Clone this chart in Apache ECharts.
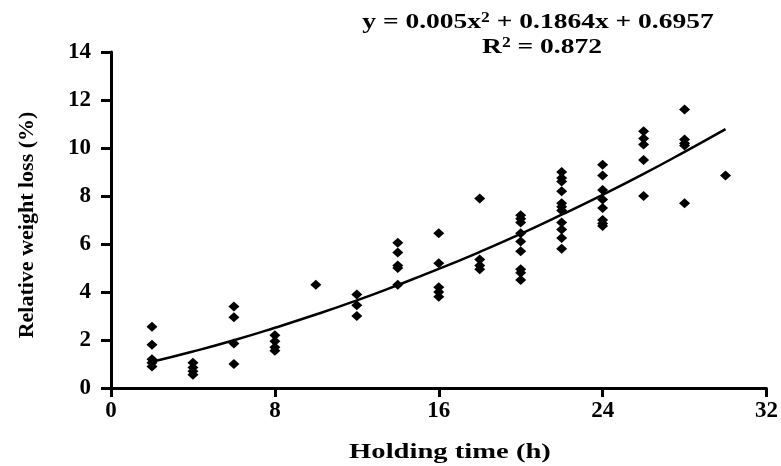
<!DOCTYPE html>
<html>
<head>
<meta charset="utf-8">
<script src="https://cdn.jsdelivr.net/npm/echarts@6/dist/echarts.min.js"></script>
<style>
  html, body { margin: 0; padding: 0; background: #fff; }
  #chart { width: 781px; height: 466px; }
</style>
</head>
<body>
<div id="chart"></div>
<script>
// holding time (h) of each measured sample
var hours = [
  2, 2, 2, 2, 2,
  4, 4, 4, 4,
  6, 6, 6, 6,
  8, 8, 8, 8,
  10,
  12, 12, 12,
  14, 14, 14, 14, 14,
  16, 16, 16, 16, 16,
  18, 18, 18, 18,
  20, 20, 20, 20, 20, 20, 20, 20, 20,
  22, 22, 22, 22, 22, 22, 22, 22, 22, 22, 22,
  24, 24, 24, 24, 24, 24, 24, 24,
  26, 26, 26, 26, 26,
  28, 28, 28, 28, 28,
  30
]
// relative weight loss (%) of each sample
var loss = [
  2.55, 1.8, 1.2, 1.05, 0.9,
  1.05, 0.85, 0.7, 0.55,
  3.4, 2.95, 1.85, 1.0,
  2.2, 1.95, 1.7, 1.55,
  4.3,
  3.9, 3.45, 3.0,
  6.05, 5.65, 5.1, 5.0, 4.3,
  6.45, 5.2, 4.2, 4.0, 3.8,
  7.9, 5.35, 5.1, 4.95,
  7.2, 7.05, 6.9, 6.45, 6.1, 5.7, 4.95, 4.8, 4.5,
  9.0, 8.75, 8.6, 8.2, 7.7, 7.55, 7.4, 6.9, 6.6, 6.25, 5.8,
  9.3, 8.85, 8.25, 7.85, 7.5, 7.0, 6.85, 6.75,
  10.7, 10.4, 10.15, 9.5, 8.0,
  11.6, 10.35, 10.2, 10.1, 7.7,
  8.85
]
// fitted curve
var fitX = [2, 4, 6, 8, 10, 12, 14, 16, 18, 20, 22, 24, 26, 28, 30]
var fitY = [1.09, 1.52, 1.99, 2.51, 3.06, 3.65, 4.29, 4.96, 5.67, 6.42, 7.22, 8.05, 8.92, 9.84, 10.79]

var xName = 'Holding time (h)'
var yName = 'Relative weight loss (%)'

var chart = echarts.init(document.getElementById('chart'))

var points = hours.map(function (h, i) { return [h, loss[i]] })
var curve = fitX.map(function (x, i) { return [x, fitY[i]] })

var serif = 'Liberation Serif'
var tickText = { color: '#000', fontFamily: serif, fontWeight: 'bold', fontSize: 23 }
var eqStyle = { fontFamily: serif, fontWeight: 'bold', fontSize: 22, color: '#000' }
var supStyle = { fontFamily: serif, fontWeight: 'bold', fontSize: 14, verticalAlign: 'top', color: '#000' }

chart.setOption({
  animation: false,
  backgroundColor: '#fff',
  grid: { left: 111, right: 13, top: 52, bottom: 78 },
  graphic: [
    {
      type: 'text', x: 538, y: 22, scaleX: 1.25,
      style: {
        text: '{a|y = 0.005x}{s|2}{a| + 0.1864x + 0.6957}',
        align: 'center', verticalAlign: 'middle',
        rich: { a: eqStyle, s: supStyle }
      }
    },
    {
      type: 'text', x: 542, y: 47, scaleX: 1.25,
      style: {
        text: '{a|R}{s|2}{a| = 0.872}',
        align: 'center', verticalAlign: 'middle',
        rich: { a: eqStyle, s: supStyle }
      }
    },
    {
      type: 'text', x: 450, y: 452, scaleX: 1.3,
      style: {
        text: xName, align: 'center', verticalAlign: 'middle',
        fill: '#000', font: 'bold 22px "Liberation Serif"'
      }
    },
    {
      type: 'text', x: 27, y: 225, rotation: Math.PI / 2,
      style: {
        text: yName, align: 'center', verticalAlign: 'middle',
        fill: '#000', font: 'bold 22px "Liberation Serif"'
      }
    }
  ],
  xAxis: {
    type: 'value', min: 0, max: 32, interval: 8,
    axisLine: { lineStyle: { color: '#000', width: 3 } },
    axisTick: { length: 9, lineStyle: { color: '#000', width: 3 } },
    axisLabel: Object.assign({ margin: 12 }, tickText),
    splitLine: { show: false }
  },
  yAxis: {
    type: 'value', min: 0, max: 14, interval: 2,
    axisLine: { show: true, lineStyle: { color: '#000', width: 3 } },
    axisTick: { show: true, length: 10, lineStyle: { color: '#000', width: 3 } },
    axisLabel: Object.assign({ margin: 20 }, tickText),
    splitLine: { show: false }
  },
  series: [
    {
      type: 'line', data: curve, smooth: true, showSymbol: false,
      lineStyle: { color: '#000', width: 2.5 }, z: 2
    },
    {
      type: 'scatter', data: points, symbol: 'diamond', symbolSize: [11, 10],
      itemStyle: { color: '#000', opacity: 1 }, z: 3
    }
  ]
})
</script>
</body>
</html>
